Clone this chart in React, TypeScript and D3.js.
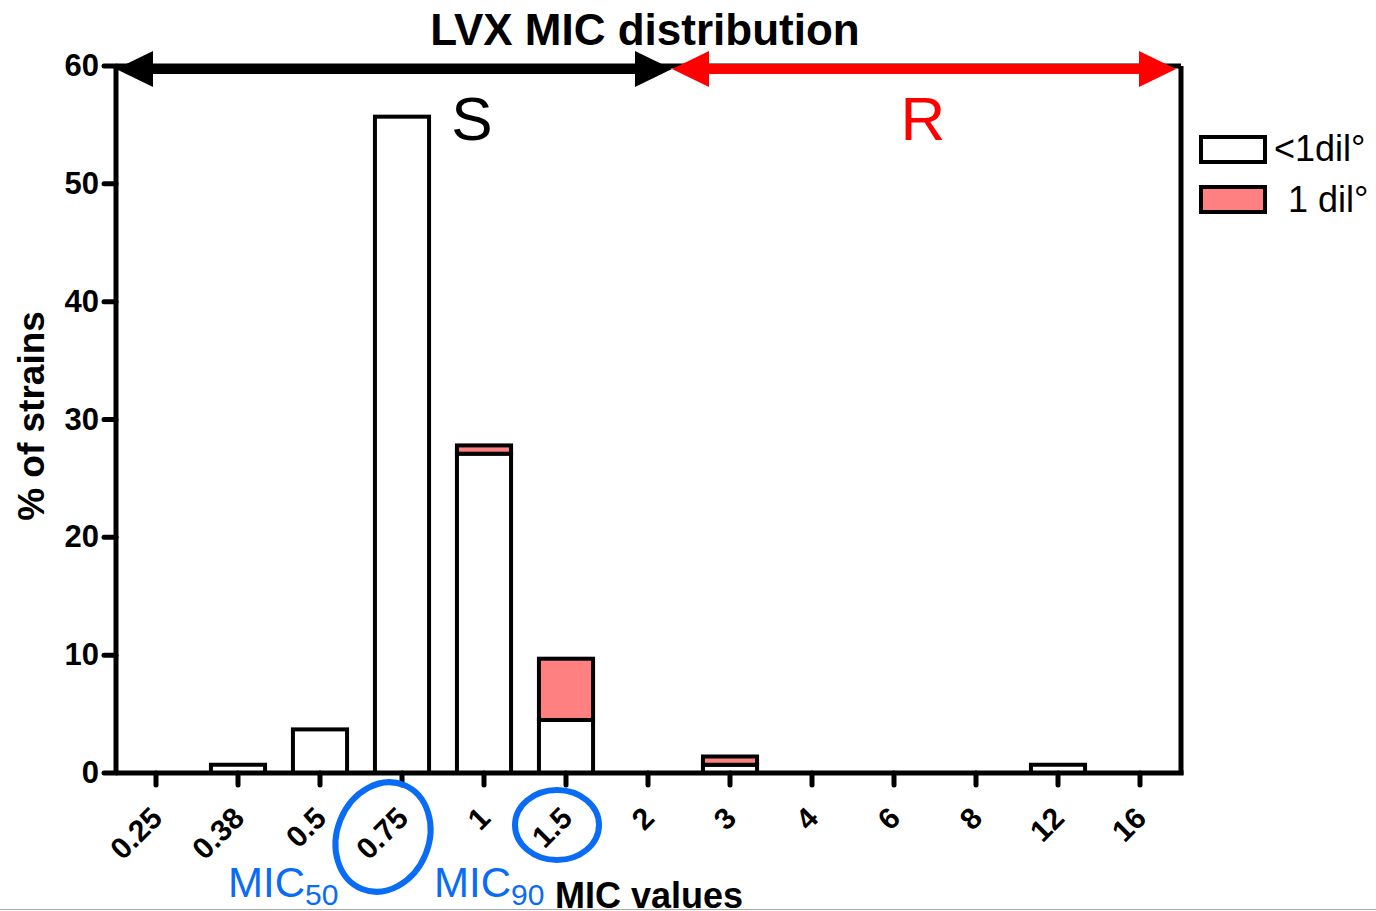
import React from "react";
import * as d3 from "d3";

const categories = ["0.25", "0.38", "0.5", "0.75", "1", "1.5", "2", "3", "4", "6", "8", "12", "16"];
const lessThan1Dil = [0, 0.7, 3.7, 55.7, 27.1, 4.5, 0, 0.7, 0, 0, 0, 0.7, 0];
const oneDil = [0, 0, 0, 0, 0.7, 5.2, 0, 0.7, 0, 0, 0, 0, 0];
const yTicks = [0, 10, 20, 30, 40, 50, 60];

const FONT = "'Liberation Sans', Arial, Helvetica, sans-serif";
const PINK = "#FF8080";
const BLUE = "#0A6CF5";

export default function App() {
  const left = 116, right = 1181, top = 66, bottom = 773;
  const x = d3.scaleBand<string>().domain(categories).range([115, 1181]).paddingInner(0.34).paddingOuter(0.17);
  const y = d3.scaleLinear().domain([0, 60]).range([bottom, top]);
  const bw = x.bandwidth();
  const cx = (c: string) => (x(c) as number) + bw / 2;

  const arrowY = 69;
  const head = (tipX: number, dir: number, color: string) => {
    const base = tipX + dir * 37;
    return <polygon points={`${tipX},${arrowY} ${base},${arrowY - 18} ${base},${arrowY + 18}`} fill={color} />;
  };
  const sEnd = 672;

  return (
    <svg width={1376} height={911} style={{ position: "absolute", left: 0, top: 0, background: "#fff" }} fontFamily={FONT}>
      <rect x={0} y={0} width={1376} height={911} fill="#fff" />
      {/* bars */}
      {categories.map((c, i) => {
        const w = lessThan1Dil[i];
        const p = oneDil[i];
        if (w + p <= 0) return null;
        return (
          <g key={c}>
            {w > 0 && (
              <rect x={x(c)} y={y(w)} width={bw} height={y(0) - y(w)} fill="#fff" stroke="#000" strokeWidth={4} />
            )}
            {p > 0 && (
              <rect x={x(c)} y={y(w + p)} width={bw} height={y(w) - y(w + p)} fill={PINK} stroke="#000" strokeWidth={4} />
            )}
          </g>
        );
      })}
      {/* frame */}
      <line x1={left} y1={top} x2={left} y2={bottom} stroke="#000" strokeWidth={5} />
      <line x1={right} y1={top} x2={right} y2={bottom + 2} stroke="#000" strokeWidth={5} />
      <line x1={left} y1={top} x2={right} y2={top} stroke="#000" strokeWidth={5} />
      <line x1={left} y1={bottom} x2={right + 2.5} y2={bottom} stroke="#000" strokeWidth={5} />
      {/* y ticks */}
      {yTicks.map((t) => (
        <g key={t}>
          <line x1={104} y1={y(t)} x2={left} y2={y(t)} stroke="#000" strokeWidth={5} strokeLinecap="round" />
          <text x={99} y={y(t) + 10} textAnchor="end" fontSize={31} fontWeight="bold">{t}</text>
        </g>
      ))}
      {/* x ticks */}
      {categories.map((c) => (
        <g key={c}>
          <line x1={cx(c)} y1={bottom} x2={cx(c)} y2={785} stroke="#000" strokeWidth={5} strokeLinecap="round" />
          <text transform={`translate(${cx(c) + 8},${820}) rotate(-45)`} textAnchor="end" fontSize={30} fontWeight="bold">{c}</text>
        </g>
      ))}
      {/* arrows */}
      <line x1={140} y1={arrowY} x2={sEnd - 25} y2={arrowY} stroke="#000" strokeWidth={10} />
      {head(116, 1, "#000")}
      {head(sEnd, -1, "#000")}
      <line x1={sEnd + 25} y1={arrowY} x2={1152} y2={arrowY} stroke="#f00" strokeWidth={10} />
      {head(sEnd, 1, "#f00")}
      {head(1176, -1, "#f00")}
      {/* title and region labels */}
      <text x={645} y={45} textAnchor="middle" fontSize={44} fontWeight="bold">LVX MIC distribution</text>
      <text x={472} y={140} textAnchor="middle" fontSize={62}>S</text>
      <text x={923} y={140} textAnchor="middle" fontSize={62} fill="#f00">R</text>
      {/* y title */}
      <text transform="translate(44,416) rotate(-90)" textAnchor="middle" fontSize={37} fontWeight="bold">% of strains</text>
      {/* legend */}
      <rect x={1201} y={137} width={64} height={25} fill="#fff" stroke="#000" strokeWidth={4} />
      <text x={1274} y={161} fontSize={36}>&lt;1dil°</text>
      <rect x={1201} y={187} width={64} height={25} fill={PINK} stroke="#000" strokeWidth={4} />
      <text x={1288} y={212} fontSize={36}>1 dil°</text>
      {/* MIC annotations */}
      <ellipse cx={383} cy={837} rx={46} ry={56} fill="none" stroke={BLUE} strokeWidth={6} transform="rotate(22,383,837)" />
      <ellipse cx={557} cy={825} rx={42} ry={35} fill="none" stroke={BLUE} strokeWidth={6} />
      <text x={228} y={897} fontSize={42} fill={BLUE}>MIC<tspan fontSize={30} dy={8}>50</tspan></text>
      <text x={434} y={897} fontSize={42} fill={BLUE}>MIC<tspan fontSize={30} dy={8}>90</tspan></text>
      <text x={555} y={908} fontSize={36} fontWeight="bold">MIC values</text>
      <line x1={0} y1={909.5} x2={1376} y2={909.5} stroke="#aaa" strokeWidth={1} />
    </svg>
  );
}
